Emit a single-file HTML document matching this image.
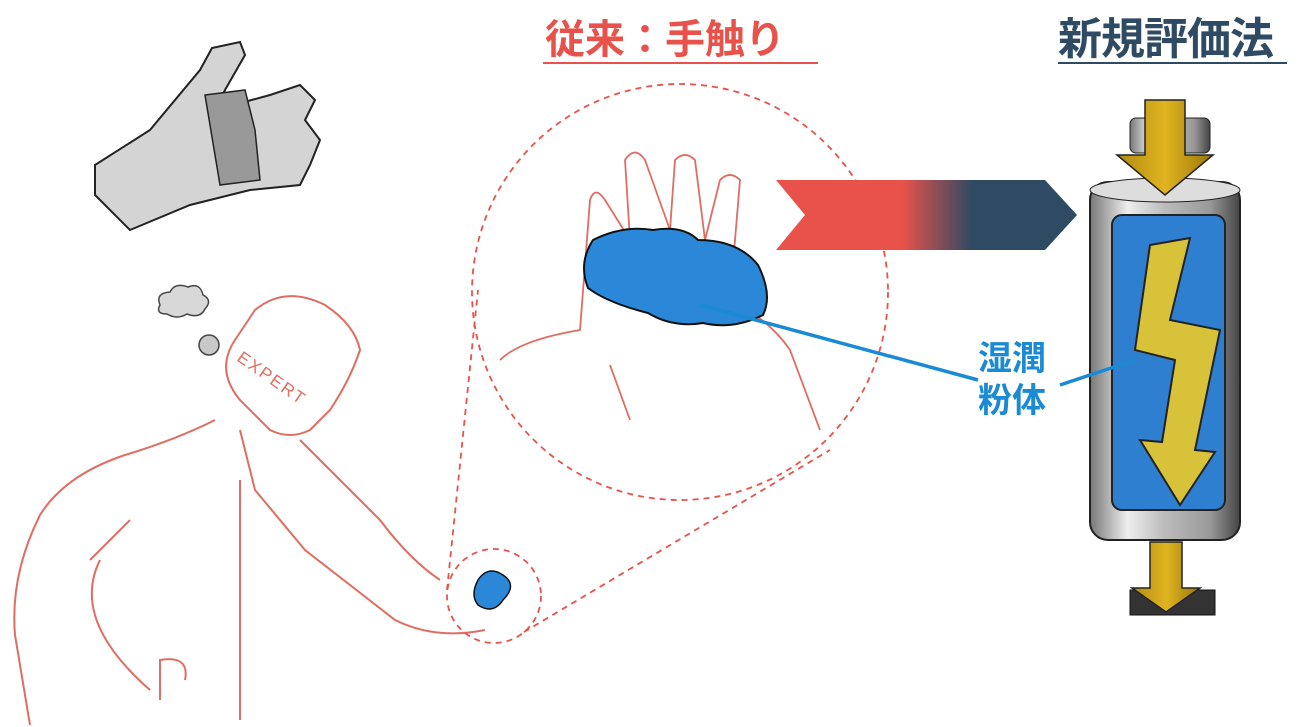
<!DOCTYPE html>
<html><head><meta charset="utf-8"><style>
html,body{margin:0;padding:0;background:#fff;}
body{width:1315px;height:727px;overflow:hidden;position:relative;font-family:"Liberation Sans","Noto Sans CJK JP",sans-serif;}
.t{position:absolute;font-weight:bold;font-size:40px;line-height:44px;white-space:nowrap;}
</style></head><body>
<svg width="1315" height="727" style="position:absolute;left:0;top:0">
<defs>
<linearGradient id="ar" x1="0" x2="1" y1="0" y2="0">
<stop offset="0" stop-color="#e8524a"/><stop offset="0.42" stop-color="#e8524a"/><stop offset="0.65" stop-color="#2f4a63"/><stop offset="1" stop-color="#2f4a63"/></linearGradient>
<linearGradient id="metal" x1="0" x2="1"><stop offset="0" stop-color="#777"/><stop offset="0.25" stop-color="#eee"/><stop offset="0.5" stop-color="#bbb"/><stop offset="0.8" stop-color="#999"/><stop offset="1" stop-color="#444"/></linearGradient>
<linearGradient id="gold" x1="0" x2="1"><stop offset="0" stop-color="#b08a10"/><stop offset="0.5" stop-color="#e0b420"/><stop offset="1" stop-color="#9a7608"/></linearGradient>
</defs>
<!-- gray hand -->
<path d="M95,165 L150,130 L200,70 L212,48 L240,42 L245,55 L225,90 L215,110 L270,95 L300,85 L315,100 L305,120 L320,140 L310,165 L300,185 L250,190 L190,205 L130,230 L95,195 Z" fill="#d4d4d4" stroke="#222" stroke-width="2"/>
<path d="M205,95 L245,90 L255,130 L260,180 L220,185 Z" fill="#999" stroke="#222" stroke-width="1.5"/>
<!-- cloud -->
<path d="M160,305 q-5,-12 10,-13 q5,-10 18,-5 q12,-5 15,8 q10,5 2,14 q-5,10 -18,5 q-10,6 -20,0 q-12,0 -7,-9z" fill="#d8d8d8" stroke="#444" stroke-width="1.5"/>
<circle cx="209" cy="345" r="10" fill="#c8c8c8" stroke="#444" stroke-width="1.5"/>
<!-- person -->
<g fill="none" stroke="#e06d62" stroke-width="2">
<path d="M255,310 q30,-25 70,-5 q30,20 35,45 q-10,30 -30,60 l-20,20 q-20,10 -40,0 l-30,-30 q-25,-30 -5,-60 z"/>
<path d="M215,420 q-40,20 -90,35 q-60,20 -85,60 q-30,60 -25,120 l15,90 M160,700 l0,-40 q30,-5 25,20"/>
<path d="M240,430 l15,60 l50,60 l90,70 q40,20 90,10 M300,440 l80,80 q30,40 60,60"/>
<path d="M240,480 l0,240 M90,560 l40,-40 M100,560 q-30,60 50,130"/>
</g>
<text x="0" y="0" transform="translate(236,360) rotate(35)" fill="#e06d62" font-family="Liberation Sans, sans-serif" font-size="17" letter-spacing="2">EXPERT</text>
<!-- dashed circles -->
<g fill="none" stroke="#e8524a" stroke-width="1.8" stroke-dasharray="6,5">
<circle cx="680" cy="292" r="208"/>
<circle cx="494" cy="596" r="47"/>
<line x1="447" y1="590" x2="478" y2="290"/>
<line x1="524" y1="632" x2="830" y2="450"/>
</g>
<path d="M478,580 q10,-15 25,-5 q15,10 0,25 q-10,15 -25,5 q-8,-10 0,-25z" fill="#2b88d8" stroke="#111" stroke-width="1.5"/>
<!-- hand in circle -->
<path d="M500,360 q20,-20 80,-30 l10,-130 q5,-15 15,0 l25,40 l-5,-80 q10,-15 20,0 l25,70 l5,-70 q10,-10 20,0 l10,80 l15,-60 q10,-10 20,0 l-10,120 q40,20 60,50 l30,80 M630,420 l-20,-55" fill="none" stroke="#e06d62" stroke-width="1.8"/>
<path d="M593,240 q30,-15 60,-10 q30,-5 45,10 q40,0 60,25 q15,30 5,50 q-30,15 -60,8 q-30,5 -55,-10 q-40,-10 -60,-25 q-10,-25 5,-48z" fill="#2b88d8" stroke="#111" stroke-width="2"/>
<!-- arrow -->
<path d="M776,180 L1045,180 L1077,215 L1045,250 L776,250 L805,215 Z" fill="url(#ar)"/>
<!-- cylinder -->
<rect x="1130" y="118" width="80" height="35" rx="6" fill="url(#metal)" stroke="#222"/>
<rect x="1090" y="182" width="150" height="358" rx="18" fill="url(#metal)" stroke="#222" stroke-width="2"/>
<ellipse cx="1165" cy="190" rx="75" ry="12" fill="#ddd" stroke="#222"/>
<rect x="1112" y="215" width="113" height="295" rx="10" fill="#2f7fd0" stroke="#222" stroke-width="2"/>
<path d="M1150,245 L1190,238 L1170,320 L1220,330 L1195,450 L1215,452 L1180,505 L1140,440 L1162,442 L1175,360 L1135,350 Z" fill="#d8c23a" stroke="#222" stroke-width="2"/>
<path d="M1145,100 L1185,100 L1185,155 L1213,155 L1165,195 L1117,155 L1145,155 Z" fill="url(#gold)" stroke="#222" stroke-width="1.5"/>
<path d="M1130,590 L1215,590 L1215,615 L1130,615 Z" fill="#333" stroke="#111"/>
<path d="M1150,542 L1182,542 L1182,588 L1200,588 L1166,612 L1132,588 L1150,588 Z" fill="url(#gold)" stroke="#222" stroke-width="1.5"/>
<!-- connector lines -->
<line x1="700" y1="305" x2="978" y2="380" stroke="#1a8ad4" stroke-width="3.5"/>
<line x1="1060" y1="385" x2="1135" y2="360" stroke="#1a8ad4" stroke-width="3.5"/>
<!-- underlines -->
<line x1="543" y1="63" x2="818" y2="63" stroke="#e8524a" stroke-width="2"/>
<line x1="1058" y1="63" x2="1287" y2="63" stroke="#2f4a63" stroke-width="2"/>
</svg>
<div class="t" style="left:545px;top:18px;color:#e8524a;">従来：手触り</div>
<div class="t" style="left:1058px;top:18px;color:#2f4a63;font-size:44px;letter-spacing:-1px;">新規評価法</div>
<div class="t" style="left:978px;top:338px;color:#1a8ad4;font-size:34px;line-height:42px;">湿潤<br>粉体</div>
</body></html>
